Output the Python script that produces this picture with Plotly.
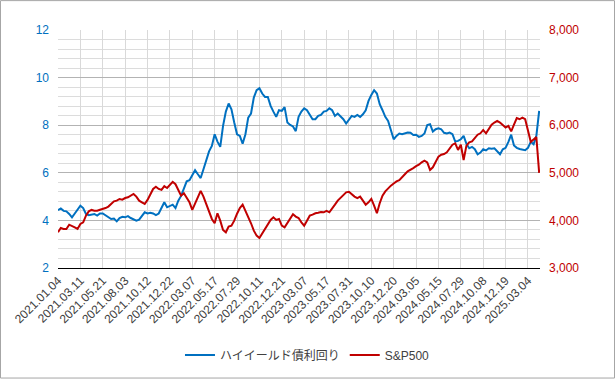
import plotly.graph_objects as go

tick_labels = ["2021.01.04", "2021.03.11", "2021.05.21", "2021.08.03", "2021.10.12", "2021.12.22",
               "2022.03.07", "2022.05.17", "2022.07.29", "2022.10.11", "2022.12.21", "2023.03.07",
               "2023.05.17", "2023.07.31", "2023.10.10", "2023.12.20", "2024.03.05", "2024.05.15",
               "2024.07.29", "2024.10.08", "2024.12.19", "2025.03.04"]
samples_per_tick = 8

hy_yield = [
    4.43, 4.50, 4.40, 4.38, 4.27, 4.13, 4.29, 4.48, 4.62,
    4.52, 4.27, 4.22, 4.24, 4.27, 4.20, 4.29, 4.29,
    4.20, 4.13, 4.06, 4.08, 3.96, 4.10, 4.15, 4.13,
    4.18, 4.10, 4.03, 3.99, 4.03, 4.20, 4.34, 4.29,
    4.32, 4.29, 4.22, 4.29, 4.52, 4.76, 4.55, 4.62,
    4.66, 4.52, 4.83, 5.03, 5.38, 5.64, 5.69, 5.92,
    6.11, 5.94, 5.78, 6.15, 6.50, 6.90, 7.13, 7.62,
    7.31, 7.09, 7.97, 8.57, 8.91, 8.67, 8.11, 7.62,
    7.55, 7.22, 7.62, 8.32, 8.49, 9.16, 9.47, 9.55,
    9.33, 9.19, 9.19, 8.81, 8.57, 8.35, 8.63, 8.60,
    8.76, 8.11, 8.01, 7.95, 7.75, 8.35, 8.57, 8.71,
    8.63, 8.43, 8.25, 8.25, 8.39, 8.43, 8.57, 8.60,
    8.71, 8.63, 8.39, 8.49, 8.39, 8.25, 8.07, 8.25,
    8.39, 8.35, 8.43, 8.35, 8.46, 8.63, 9.02, 9.27,
    9.47, 9.33, 8.88, 8.63, 8.35, 8.18, 7.83, 7.41,
    7.55, 7.65, 7.62, 7.65, 7.69, 7.68, 7.59, 7.60,
    7.51, 7.55, 7.65, 8.01, 8.04, 7.73, 7.83, 7.87,
    7.83, 7.68, 7.65, 7.69, 7.62, 7.31, 7.34, 7.41,
    7.55, 7.22, 7.03, 7.09, 6.99, 6.78, 6.85, 6.99,
    6.94, 7.03, 7.01, 7.03, 6.92, 6.78, 6.99, 7.05,
    7.30, 7.60, 7.15, 7.05, 7.00, 6.98, 6.95, 7.05,
    7.30, 7.20, 7.55, 8.60,
]

sp500 = [
    3750, 3840, 3820, 3820, 3910, 3890, 3855, 3820, 3925,
    3960, 4100, 4190, 4220, 4205, 4205, 4225, 4240,
    4260, 4290, 4345, 4400, 4415, 4450, 4435, 4470,
    4485, 4520, 4555, 4500, 4415, 4380, 4345, 4430,
    4555, 4660, 4707, 4660, 4640, 4720, 4680, 4750,
    4810, 4760, 4620, 4520, 4570, 4470, 4380, 4220,
    4360, 4500, 4620, 4500, 4330, 4205, 4030, 3940,
    4150, 3995, 3800, 3750, 3870, 3890, 3995, 4140,
    4260, 4330, 4205, 4065, 3940, 3785, 3680, 3630,
    3730, 3820, 3940, 4010, 4065, 4010, 4030, 3890,
    3855, 3940, 4030, 4130, 4080, 4050, 3960, 3890,
    3995, 4100, 4120, 4150, 4160, 4175, 4170, 4200,
    4170, 4240, 4330, 4415, 4470, 4520, 4590, 4600,
    4540, 4500, 4470, 4500, 4415, 4330, 4380, 4450,
    4310, 4150, 4360, 4520, 4610, 4680, 4730, 4775,
    4820, 4845, 4915, 4970, 5030, 5060, 5100, 5140,
    5170, 5220, 5255, 5220, 5060, 5115, 5240, 5340,
    5380, 5395, 5430, 5500, 5590, 5620, 5480, 5590,
    5270, 5570, 5640, 5660, 5730, 5800, 5830, 5900,
    5830, 5920, 6010, 6055, 6090, 6055, 6010, 5950,
    5985, 5870, 6010, 6150, 6125, 6160, 6125, 5850,
    5650, 5700, 5750, 5000,
]

BLUE = "#0070C0"
RED = "#C00000"
FONT = "Liberation Sans, Arial, Noto Sans CJK JP, sans-serif"

x = list(range(len(hy_yield)))
tickvals = [k * samples_per_tick for k in range(len(tick_labels))]

fig = go.Figure()
fig.add_trace(go.Scatter(x=x, y=hy_yield, name="ハイイールド債利回り", mode="lines",
                         line=dict(color=BLUE, width=2)))
fig.add_trace(go.Scatter(x=x, y=sp500, name="S&P500", mode="lines", yaxis="y2",
                         line=dict(color=RED, width=2)))

fig.update_layout(
    width=615, height=380,
    margin=dict(l=58, r=75, t=30, b=111),
    paper_bgcolor="white", plot_bgcolor="white",
    font=dict(family=FONT, size=12, color="#404040"),
    showlegend=True,
    legend=dict(orientation="h", x=0.5176, xanchor="center", y=-0.36, yanchor="middle",
                font=dict(size=12, color="#404040"), itemwidth=30),
    xaxis=dict(range=[0, len(hy_yield) - 0.7], tickmode="array", tickvals=tickvals,
               ticktext=tick_labels, tickangle=-45, tickfont=dict(size=12, color="#404040"),
               showgrid=True, gridcolor="#d9d9d9", gridwidth=1,
               showline=True, linecolor="black", linewidth=1, ticks="", zeroline=False),
    yaxis=dict(range=[2, 12], dtick=2, tick0=2, showgrid=True, gridcolor="#b3b3b3", gridwidth=1,
               minor=dict(dtick=0.4, tick0=2, showgrid=True, gridcolor="#dcdcdc", gridwidth=1),
               tickfont=dict(size=12, color=BLUE), zeroline=False, showline=False,
               ticklabelstandoff=8),
    yaxis2=dict(range=[3000, 8000], dtick=1000, overlaying="y", side="right", showgrid=False,
                tickformat=",", tickfont=dict(size=12, color=RED), zeroline=False,
                showline=False, ticklabelstandoff=8),
    shapes=[dict(type="rect", xref="paper", yref="paper",
                 x0=-57.5 / 482, x1=(615 - 58.5) / 482, y0=-110.5 / 239, y1=1 + 29.5 / 239,
                 line=dict(color="#a6a6a6", width=1), fillcolor="rgba(0,0,0,0)", layer="below")],
)

fig.write_html("out.html", config={"displayModeBar": False},
               post_script="document.body.style.margin='0';document.body.style.padding='0';")
